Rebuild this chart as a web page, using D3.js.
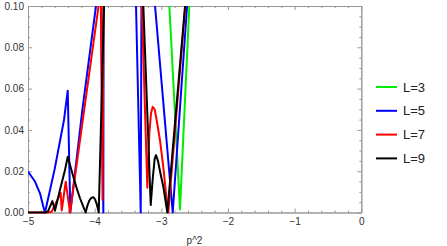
<!DOCTYPE html>
<html><head><meta charset="utf-8">
<script src="https://cdn.jsdelivr.net/npm/d3@7"></script>
<style>body{margin:0;background:#fff} svg{display:block} text{font-family:"Liberation Sans",Arial,sans-serif}</style>
</head><body><svg id="c" width="447" height="246"></svg>
<script>
const xTicks = [-5,-4,-3,-2,-1,0];
const yTicks = [0,0.02,0.04,0.06,0.08,0.10];
const seriesNames = ["L=3","L=5","L=7","L=9"];
const seriesColors = ["#00ee00","#0000ff","#ff0000","#000000"];

const xL3 = [-2.912,-2.72,-2.56];
const yL3 = [0.12,0.0015,0.114];

const xL5 = [-5,-4.895,-4.82,-4.77,-4.745,-4.60,-4.46,-4.404,-4.365,-4.185,-3.98,-3.91,-3.87,-3.84,-3.52,-3.309,-3.29,-3.094,-2.829,-2.56];
const yL5 = [0.0198,0.015,0.0093,0.0028,0,0.021,0.0448,0.059,0,0.0496,0.1,0.117,0,0.75,0.3,0,0.174,0.1,0,0.125];

const xL7 = [-5,-4.70,-4.644,-4.51,-4.494,-4.434,-4.37,-3.907,-3.882,-3.84,-3.48,-3.21,-3.18,-3.155,-3.129,-3.10,-3.07,-3.02,-2.97,-2.92,-2.895,-2.60];
const yL7 = [0,0,0.0004,0.0095,0.001,0.0149,0,0.108,0.006,0.3,0.3,0.012,0.038,0.048,0.0512,0.050,0.0448,0.035,0.022,0.006,0,0.116];

const xL9 = [-5,-4.745,-4.70,-4.635,-4.595,-4.52,-4.445,-4.404,-4.37,-4.32,-4.269,-4.22,-4.17,-4.135,-4.11,-4.08,-4.05,-4.02,-3.995,-3.97,-3.939,-3.70,-3.50,-3.159,-3.13,-3.10,-3.08,-3.05,-3.02,-2.97,-2.91,-2.60];
const yL9 = [0,0,0.0005,0.0055,0.001,0.011,0.0206,0.027,0.023,0.0173,0.0117,0.0069,0.0028,0,0.0032,0.0058,0.0071,0.0074,0.0065,0.0042,0,0.3,0.3,0.0036,0.016,0.026,0.0278,0.025,0.020,0.0125,0,0.1166];

const seriesX = [xL3,xL5,xL7,xL9];
const seriesY = [yL3,yL5,yL7,yL9];

const svg = d3.select("#c");
const x = d3.scaleLinear().domain([-5,0]).range([28,361.3]);
const y = d3.scaleLinear().domain([0,0.1]).range([212.5,6]);
const frameCol = "#999";

const xMinor = d3.range(-5,0.001,0.2).filter(v=>Math.abs(v-Math.round(v))>1e-6);
const yMinor = d3.range(0,0.1001,0.005).filter(v=>Math.abs(v*50-Math.round(v*50))>1e-6);

function styleAxis(g){
  g.selectAll("path.domain").attr("stroke",frameCol);
  g.selectAll(".tick line").attr("stroke",frameCol);
  g.selectAll("text").attr("fill","#333").style("font-size","10px").style("font-family","'Liberation Sans',Arial,sans-serif");
}

// bottom
svg.append("g").attr("transform",`translate(0,${y(0)})`)
  .call(d3.axisBottom(x).tickValues(xTicks).tickSize(-4).tickSizeOuter(0).tickPadding(5.5).tickFormat(d3.format("")))
  .call(styleAxis);
svg.append("g").attr("transform",`translate(0,${y(0)})`)
  .call(d3.axisBottom(x).tickValues(xMinor).tickSize(-2).tickSizeOuter(0).tickFormat(""))
  .call(styleAxis);
// top
svg.append("g").attr("transform",`translate(0,${y(0.1)})`)
  .call(d3.axisTop(x).tickValues(xTicks).tickSize(-4).tickSizeOuter(0).tickFormat(""))
  .call(styleAxis);
svg.append("g").attr("transform",`translate(0,${y(0.1)})`)
  .call(d3.axisTop(x).tickValues(xMinor).tickSize(-2).tickSizeOuter(0).tickFormat(""))
  .call(styleAxis);
// left
svg.append("g").attr("transform",`translate(${x(-5)},0)`)
  .call(d3.axisLeft(y).tickValues(yTicks).tickSize(-4).tickSizeOuter(0).tickPadding(4).tickFormat(d3.format(".2f")))
  .call(styleAxis);
svg.append("g").attr("transform",`translate(${x(-5)},0)`)
  .call(d3.axisLeft(y).tickValues(yMinor).tickSize(-2).tickSizeOuter(0).tickFormat(""))
  .call(styleAxis);
// right
svg.append("g").attr("transform",`translate(${x(0)},0)`)
  .call(d3.axisRight(y).tickValues(yTicks).tickSize(-4).tickSizeOuter(0).tickFormat(""))
  .call(styleAxis);
svg.append("g").attr("transform",`translate(${x(0)},0)`)
  .call(d3.axisRight(y).tickValues(yMinor).tickSize(-2).tickSizeOuter(0).tickFormat(""))
  .call(styleAxis);

svg.append("defs").append("clipPath").attr("id","clip").append("rect")
  .attr("x",x(-5)).attr("y",y(0.1)).attr("width",x(0)-x(-5)).attr("height",y(0)-y(0.1)+1.2);

const line = d3.line().x(d=>x(d[0])).y(d=>y(d[1]));
const plot = svg.append("g").attr("clip-path","url(#clip)");
seriesX.forEach((xs,i)=>{
  const pts = xs.map((v,j)=>[v,seriesY[i][j]]);
  plot.append("path").datum(pts).attr("d",line).attr("fill","none")
    .attr("stroke",seriesColors[i]).attr("stroke-width",2).attr("stroke-linejoin","round");
});

svg.append("text").attr("x",194.5).attr("y",243.5).attr("text-anchor","middle")
  .attr("fill","#333").style("font-size","10px").text("p^2");

const leg = svg.append("g");
seriesNames.forEach((n,i)=>{
  const yy = 87 + i*23.8;
  leg.append("line").attr("x1",376).attr("x2",397).attr("y1",yy).attr("y2",yy)
    .attr("stroke",seriesColors[i]).attr("stroke-width",2);
  leg.append("text").attr("x",403).attr("y",yy).attr("dy","0.36em")
    .attr("fill","#222").style("font-size","13px").text(n);
});
</script></body></html>
